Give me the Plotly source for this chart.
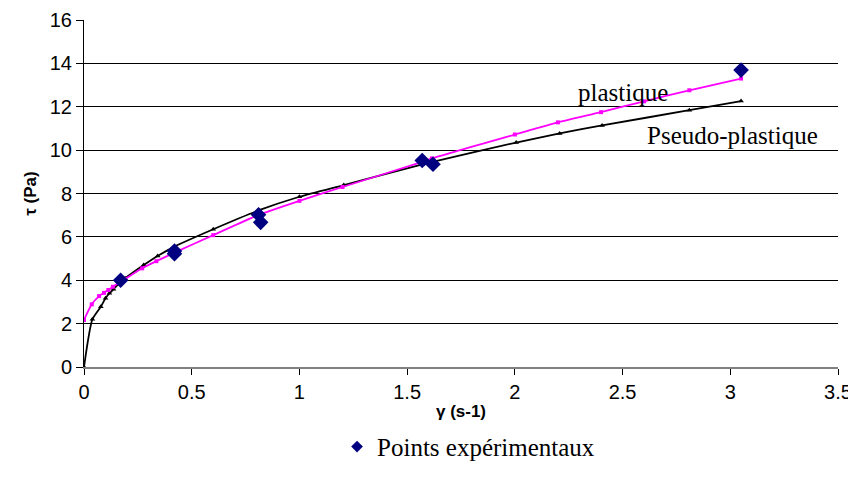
import plotly.graph_objects as go

# experimental points
exp_gamma = [0.17, 0.42, 0.42, 0.81, 0.82, 1.57, 1.62, 3.05]
exp_tau = [4.0, 5.22, 5.35, 7.02, 6.67, 9.52, 9.35, 13.69]

# plastique model (Bingham-like)
plast_gamma = [0, 0.036, 0.07, 0.093, 0.113, 0.134, 0.19, 0.27, 0.336, 0.417,
               0.6, 0.8, 1.0, 1.2, 1.57, 1.615, 2.0, 2.2, 2.4, 2.6, 2.81, 3.05]
plast_tau = [2.17, 2.89, 3.27, 3.42, 3.55, 3.7, 4.05, 4.55, 4.88, 5.26,
             6.08, 6.97, 7.66, 8.3, 9.46, 9.62, 10.72, 11.28, 11.75, 12.25, 12.76, 13.3]

# pseudo-plastique model
pseudo_gamma = [0, 0.039, 0.078, 0.1, 0.118, 0.137, 0.163, 0.191, 0.277, 0.342,
                0.42, 0.6, 0.813, 1.0, 1.206, 1.571, 1.618, 2.006, 2.208, 2.405, 2.81, 3.05]
pseudo_tau = [0, 2.2, 2.78, 3.17, 3.4, 3.58, 3.86, 4.09, 4.7, 5.12,
              5.55, 6.35, 7.23, 7.85, 8.39, 9.34, 9.46, 10.35, 10.77, 11.14, 11.84, 12.26]

fig = go.Figure()

fig.add_trace(go.Scatter(
    x=pseudo_gamma, y=pseudo_tau,
    mode='lines+markers',
    line=dict(color='black', width=1.8, shape='spline', smoothing=0.6),
    marker=dict(symbol='triangle-up', size=5, color='black'),
    name='Pseudo-plastique', showlegend=False
))

fig.add_trace(go.Scatter(
    x=plast_gamma, y=plast_tau,
    mode='lines+markers',
    line=dict(color='#FF00FF', width=1.8, shape='spline', smoothing=0.6),
    marker=dict(symbol='square', size=4, color='#FF00FF'),
    name='plastique', showlegend=False
))

fig.add_trace(go.Scatter(
    x=exp_gamma, y=exp_tau,
    mode='markers',
    marker=dict(symbol='diamond', size=12, color='#000080'),
    name='Points expérimentaux', showlegend=False
))

# legend entry only (smaller marker, like the original)
fig.add_trace(go.Scatter(
    x=[None], y=[None],
    mode='markers',
    marker=dict(symbol='diamond', size=9, color='#000080'),
    name='Points expérimentaux'
))

# curve labels
fig.add_annotation(x=2.5, y=12.67, text='plastique', showarrow=False,
                   font=dict(family='Liberation Serif', size=25, color='black'))
fig.add_annotation(x=3.01, y=10.69, text='Pseudo-plastique', showarrow=False,
                   font=dict(family='Liberation Serif', size=25, color='black'))

# page body has an 8px margin, so the figure is sized/offset to compensate
fig.update_layout(
    width=848, height=485,
    margin=dict(l=76, r=18, t=12, b=126),
    plot_bgcolor='white', paper_bgcolor='white',
    font=dict(family='Liberation Sans', size=20, color='black'),
    showlegend=True,
    legend=dict(orientation='h', x=0.51, xanchor='center', y=-0.23, yanchor='middle',
                font=dict(family='Liberation Serif', size=25)),
    xaxis=dict(
        range=[0, 3.5], dtick=0.5, showgrid=False, automargin=False,
        showline=True, linecolor='#808080', linewidth=2,
        ticks='outside', ticklen=6, tickcolor='black',
        zeroline=False,
        title=dict(text='<b>γ (s-1)</b>', font=dict(size=17), standoff=3),
    ),
    yaxis=dict(
        range=[0, 16], dtick=2, showgrid=True, gridcolor='black', gridwidth=1,
        showline=True, linecolor='black', linewidth=1, automargin=False,
        ticks='outside', ticklen=7, tickcolor='black',
        zeroline=False,
        title=dict(text='<b>τ (Pa)</b>', font=dict(size=17), standoff=8),
    ),
)

fig.write_html("out.html")
